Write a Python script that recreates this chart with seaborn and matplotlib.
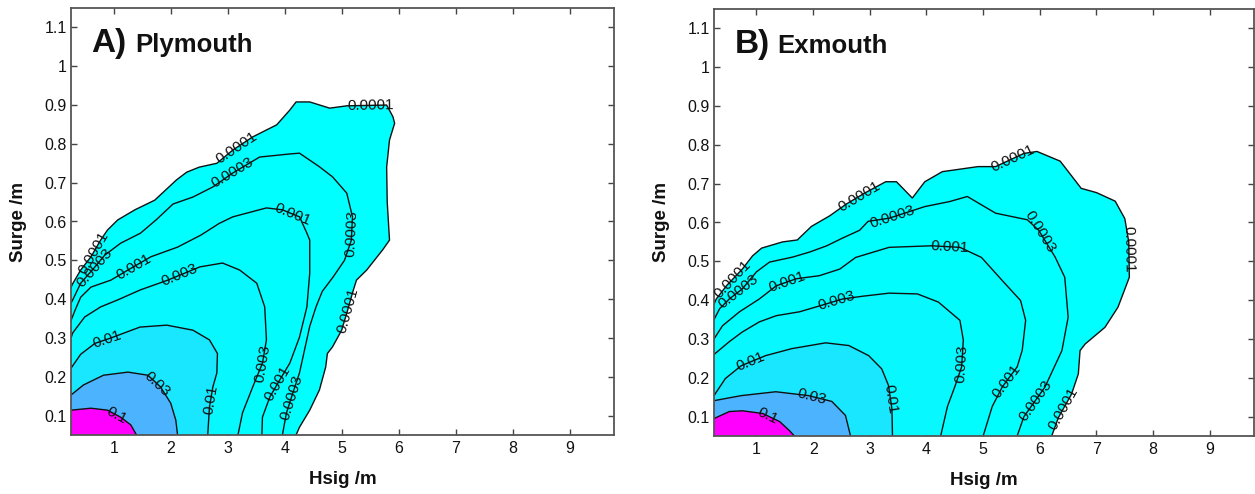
import numpy as np
import matplotlib.pyplot as plt
import seaborn as sns

# contour levels of joint probability (Hsig, surge)
LEVELS = [0.0001, 0.0003, 0.001, 0.003, 0.01, 0.03, 0.1]
LEVEL_TEXT = ["0.0001", "0.0003", "0.001", "0.003", "0.01", "0.03", "0.1"]

X_TICKS = [1, 2, 3, 4, 5, 6, 7, 8, 9]
Y_TICKS = [0.1, 0.2, 0.3, 0.4, 0.5, 0.6, 0.7, 0.8, 0.9, 1.0, 1.1]
Y_TICK_LABELS = ["0.1", "0.2", "0.3", "0.4", "0.5", "0.6", "0.7", "0.8", "0.9", "1", "1.1"]

# ---- Plymouth contour lines (Hsig, surge) ----
ply_x_0001 = [0.25, 0.28, 0.42, 0.60, 0.77, 0.89, 1.07, 1.37, 1.72, 2.10, 2.28, 2.50, 2.81, 3.09, 3.44,
              3.86, 4.09, 4.20, 4.44, 4.79, 5.09, 5.79, 5.90, 5.93, 5.84, 5.79, 5.80, 5.84, 5.72, 5.44,
              5.26, 5.19, 5.09, 5.00, 4.84, 4.75, 4.72, 4.61, 4.44, 4.26, 4.20]
ply_y_0001 = [0.43, 0.44, 0.475, 0.509, 0.552, 0.578, 0.604, 0.63, 0.655, 0.707, 0.727, 0.74, 0.75, 0.784, 0.818,
              0.849, 0.887, 0.908, 0.908, 0.892, 0.898, 0.90, 0.87, 0.853, 0.81, 0.74, 0.65, 0.552, 0.527, 0.475,
              0.449, 0.416, 0.364, 0.32, 0.277, 0.26, 0.225, 0.166, 0.114, 0.07, 0.05]
ply_x_0003 = [0.25, 0.28, 0.42, 0.67, 0.84, 1.12, 1.47, 1.75, 2.04, 2.39, 2.74, 3.09, 3.56, 4.09, 4.26,
              4.61, 4.84, 5.09, 5.19, 5.17, 5.05, 4.85, 4.66, 4.55, 4.44, 4.35, 4.26, 4.14, 4.03, 3.96]
ply_y_0003 = [0.39, 0.398, 0.441, 0.483, 0.513, 0.544, 0.57, 0.605, 0.645, 0.663, 0.689, 0.725, 0.766, 0.774, 0.776,
              0.741, 0.715, 0.673, 0.612, 0.552, 0.50, 0.457, 0.42, 0.38, 0.33, 0.27, 0.21, 0.157, 0.106, 0.05]
ply_x_001 = [0.25, 0.32, 0.42, 0.60, 0.95, 1.25, 1.65, 2.12, 2.53, 2.85, 3.09, 3.68, 3.96, 4.26, 4.39,
             4.44, 4.44, 4.39, 4.26, 4.09, 3.91, 3.74, 3.61, 3.60]
ply_y_001 = [0.345, 0.371, 0.405, 0.431, 0.449, 0.475, 0.509, 0.534, 0.565, 0.595, 0.612, 0.635, 0.63, 0.612, 0.57,
             0.552, 0.467, 0.38, 0.302, 0.235, 0.191, 0.148, 0.096, 0.05]
ply_x_003 = [0.25, 0.28, 0.49, 0.77, 1.07, 1.47, 1.95, 2.51, 2.91, 3.21, 3.51, 3.65, 3.68, 3.61, 3.44, 3.26, 3.18]
ply_y_003 = [0.30, 0.313, 0.354, 0.38, 0.398, 0.424, 0.449, 0.483, 0.493, 0.475, 0.441, 0.38, 0.295, 0.235,
             0.174, 0.107, 0.05]
ply_x_01 = [0.25, 0.42, 0.67, 0.95, 1.46, 1.93, 2.39, 2.68, 2.82, 2.81, 2.74, 2.68, 2.65]
ply_y_01 = [0.222, 0.258, 0.286, 0.30, 0.328, 0.333, 0.32, 0.295, 0.26, 0.21, 0.174, 0.122, 0.05]
ply_x_03 = [0.25, 0.47, 0.82, 1.25, 1.60, 1.82, 2.00, 2.09, 2.12]
ply_y_03 = [0.153, 0.179, 0.204, 0.212, 0.204, 0.174, 0.132, 0.088, 0.05]
ply_x_1 = [0.25, 0.60, 0.89, 1.12, 1.30, 1.40]
ply_y_1 = [0.114, 0.119, 0.114, 0.096, 0.076, 0.05]

# ---- Exmouth contour lines ----
exm_x_0001 = [0.25, 0.29, 0.47, 0.75, 0.93, 1.09, 1.46, 1.72, 1.97, 2.29, 2.59, 2.90, 3.28, 3.47, 3.75,
              3.97, 4.28, 4.91, 5.22, 5.72, 5.95, 6.36, 6.73, 7.00, 7.33, 7.50, 7.57, 7.58, 7.38, 7.15,
              6.80, 6.71, 6.68, 6.56, 6.33, 6.21]
exm_y_0001 = [0.39, 0.403, 0.437, 0.48, 0.514, 0.534, 0.55, 0.555, 0.59, 0.617, 0.648, 0.675, 0.705, 0.705, 0.663,
              0.705, 0.731, 0.744, 0.744, 0.778, 0.783, 0.758, 0.688, 0.677, 0.655, 0.61, 0.55, 0.459, 0.382, 0.33,
              0.287, 0.27, 0.21, 0.158, 0.098, 0.05]
exm_x_0003 = [0.25, 0.35, 0.52, 0.75, 1.00, 1.23, 1.64, 1.94, 2.24, 2.52, 2.82, 2.97, 3.34, 3.97, 4.41,
              4.72, 5.22, 5.78, 5.98, 6.27, 6.44, 6.50, 6.39, 6.09, 5.72, 5.60]
exm_y_0003 = [0.35, 0.378, 0.403, 0.429, 0.473, 0.498, 0.511, 0.524, 0.54, 0.56, 0.58, 0.603, 0.611, 0.641, 0.654,
              0.667, 0.624, 0.607, 0.58, 0.511, 0.459, 0.356, 0.27, 0.176, 0.10, 0.05]
exm_x_001 = [0.25, 0.40, 0.70, 1.05, 1.35, 1.70, 2.11, 2.47, 2.75, 3.34, 4.09, 4.59, 4.97, 5.34, 5.66,
             5.75, 5.69, 5.60, 5.34, 5.16, 5.00]
exm_y_001 = [0.30, 0.334, 0.37, 0.403, 0.437, 0.455, 0.463, 0.48, 0.51, 0.536, 0.54, 0.536, 0.51, 0.45, 0.399,
             0.348, 0.271, 0.228, 0.177, 0.126, 0.05]
exm_x_003 = [0.25, 0.52, 0.75, 1.05, 1.35, 1.76, 2.11, 2.52, 2.87, 3.34, 3.84, 4.21, 4.59, 4.65, 4.62,
             4.50, 4.37, 4.25]
exm_y_003 = [0.26, 0.293, 0.318, 0.344, 0.36, 0.37, 0.385, 0.403, 0.41, 0.418, 0.416, 0.395, 0.348, 0.297, 0.228,
             0.177, 0.126, 0.05]
exm_x_01 = [0.25, 0.45, 0.73, 1.16, 1.62, 2.22, 2.63, 2.98, 3.21, 3.33, 3.39, 3.40]
exm_y_01 = [0.154, 0.198, 0.231, 0.257, 0.275, 0.29, 0.283, 0.257, 0.223, 0.18, 0.12, 0.05]
exm_x_03 = [0.25, 0.73, 1.34, 1.92, 2.33, 2.57, 2.66]
exm_y_03 = [0.141, 0.154, 0.164, 0.154, 0.139, 0.103, 0.05]
exm_x_1 = [0.25, 0.52, 0.75, 1.11, 1.41, 1.58, 1.67]
exm_y_1 = [0.095, 0.113, 0.115, 0.108, 0.087, 0.064, 0.05]

# label anchors (level index, Hsig, surge) - projected onto the line when drawn
PLY_LABELS = [(0, 0.63, 0.52), (0, 3.07, 0.81), (0, 5.5, 0.905), (0, 5.63, 0.35),
              (1, 0.75, 0.47), (1, 3.07, 0.73), (1, 5.22, 0.57), (1, 4.26, 0.14),
              (2, 1.37, 0.48), (2, 4.09, 0.60), (2, 3.91, 0.18),
              (3, 2.18, 0.45), (3, 3.61, 0.235),
              (4, 0.89, 0.29), (4, 2.72, 0.14),
              (5, 1.72, 0.174), (6, 1.07, 0.106)]
EXM_LABELS = [(0, 0.61, 0.45), (0, 2.84, 0.66), (0, 5.53, 0.76), (0, 7.6, 0.53), (0, 6.39, 0.124),
              (1, 0.75, 0.41), (1, 3.41, 0.611), (1, 5.97, 0.573), (1, 5.85, 0.15),
              (2, 1.53, 0.45), (2, 4.4, 0.536), (2, 5.4, 0.194),
              (3, 2.41, 0.40), (3, 4.65, 0.237),
              (4, 0.91, 0.236), (4, 3.37, 0.146),
              (5, 1.97, 0.15), (6, 1.18, 0.10)]

XLIM = (0.25, 9.78)
YLIM = (0.05, 1.15)


def label_spot(ax, xs, ys, lx, ly):
    """Project an anchor onto the polyline (display space); return point and angle."""
    pts = ax.transData.transform(np.column_stack([xs, ys]))
    p = ax.transData.transform((lx, ly))
    best = None
    for a, b in zip(pts[:-1], pts[1:]):
        d = b - a
        t = np.clip(np.dot(p - a, d) / max(np.dot(d, d), 1e-9), 0, 1)
        q = a + t * d
        dist = np.sum((q - p) ** 2)
        if best is None or dist < best[0]:
            best = (dist, q, d)
    _, q, d = best
    ang = np.degrees(np.arctan2(d[1], d[0]))
    if ang > 90:
        ang -= 180
    elif ang < -90:
        ang += 180
    return ax.transData.inverted().transform(q), ang


def draw_panel(ax, lines, labels, tag, site):
    cmap = sns.color_palette("cool", as_cmap=True)
    for level, (xs, ys) in zip(LEVELS, lines):
        # each line runs from the left axis to the bottom axis; close it at the corner
        ax.fill(list(xs) + [xs[0]], list(ys) + [ys[-1]], color=cmap(level / LEVELS[-1]), lw=0, zorder=1)
        sns.lineplot(x=xs, y=ys, sort=False, estimator=None, color="#111111", lw=1.0, ax=ax, zorder=2)

    ax.set_xlim(*XLIM)
    ax.set_ylim(*YLIM)
    ax.figure.canvas.draw()
    for k, lx, ly in labels:
        xs, ys = lines[k]
        (tx, ty), ang = label_spot(ax, xs, ys, lx, ly)
        ax.text(tx, ty, LEVEL_TEXT[k], rotation=ang, rotation_mode="anchor",
                ha="center", va="center", fontsize=11, color="#111111", zorder=3)

    ax.set_xticks(X_TICKS)
    ax.set_yticks(Y_TICKS)
    ax.set_yticklabels(Y_TICK_LABELS)
    ax.tick_params(direction="in", length=4, width=1, top=True, right=True,
                   labelsize=11.5, labelcolor="#111111", color="#444444", pad=4)
    ax.tick_params(axis="y", pad=3)
    for sp in ax.spines.values():
        sp.set_visible(True)
        sp.set_color("#555555")
        sp.set_linewidth(1.3)
    ax.set_xlabel("Hsig /m", fontsize=13.5, fontweight="bold", color="#111111")
    ax.set_ylabel("Surge /m", fontsize=13.5, fontweight="bold", color="#111111")
    ax.xaxis.set_label_coords(0.5, -0.085)
    ax.yaxis.set_label_coords(-0.081, 0.5)
    ax.text(0.038, 0.897, tag, transform=ax.transAxes, fontsize=24, fontweight="bold",
            va="baseline", color="#111111")
    ax.text(0.118, 0.897, site, transform=ax.transAxes, fontsize=18.5, fontweight="bold",
            va="baseline", color="#111111")


sns.set_style("ticks")
plt.rcParams["font.family"] = ["Liberation Sans", "DejaVu Sans"]

fig = plt.figure(figsize=(12.55, 4.94), dpi=100)
ax_a = fig.add_axes([71 / 1255, 59 / 494, 543 / 1255, 427 / 494])
ax_b = fig.add_axes([714 / 1255, 58 / 494, 540 / 1255, 427 / 494])

ply_lines = [(ply_x_0001, ply_y_0001), (ply_x_0003, ply_y_0003), (ply_x_001, ply_y_001),
             (ply_x_003, ply_y_003), (ply_x_01, ply_y_01), (ply_x_03, ply_y_03), (ply_x_1, ply_y_1)]
exm_lines = [(exm_x_0001, exm_y_0001), (exm_x_0003, exm_y_0003), (exm_x_001, exm_y_001),
             (exm_x_003, exm_y_003), (exm_x_01, exm_y_01), (exm_x_03, exm_y_03), (exm_x_1, exm_y_1)]

draw_panel(ax_a, ply_lines, PLY_LABELS, "A)", "Plymouth")
draw_panel(ax_b, exm_lines, EXM_LABELS, "B)", "Exmouth")

fig.savefig("out.png", dpi=100)
